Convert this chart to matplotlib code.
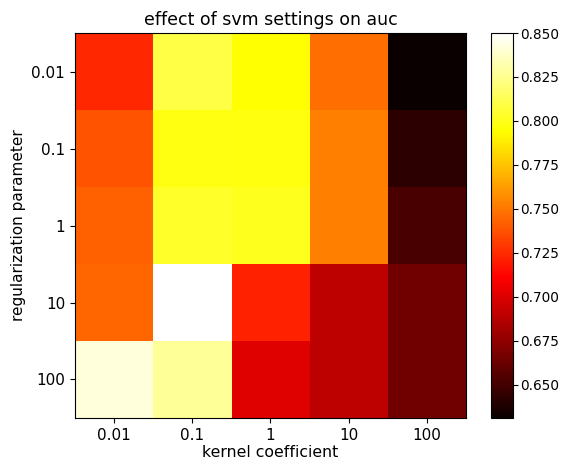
import matplotlib
matplotlib.use("Agg")
import matplotlib.pyplot as plt
import numpy as np

kernel_coef = ["0.01", "0.1", "1", "10", "100"]
reg_param = ["0.01", "0.1", "1", "10", "100"]
auc_row_001 = [0.724, 0.809, 0.795, 0.747, 0.631]
auc_row_01 = [0.738, 0.798, 0.797, 0.753, 0.6425]
auc_row_1 = [0.743, 0.803, 0.801, 0.753, 0.652]
auc_row_10 = [0.744, 0.850, 0.722, 0.690, 0.6645]
auc_row_100 = [0.842, 0.827, 0.701, 0.690, 0.6645]

scores = np.array([auc_row_001, auc_row_01, auc_row_1, auc_row_10, auc_row_100])

fig = plt.figure(figsize=(5.63, 4.61), dpi=100)
ax = fig.add_axes([0.133, 0.0933, 0.6945, 0.835])
cax = fig.add_axes([0.872, 0.0933, 0.039, 0.835])

im = ax.imshow(scores, cmap="hot", aspect="auto", interpolation="nearest")
ax.set_xticks(range(len(kernel_coef)))
ax.set_xticklabels(kernel_coef, fontsize=11)
ax.set_yticks(range(len(reg_param)))
ax.set_yticklabels(reg_param, fontsize=11)
ax.set_xlabel("kernel coefficient", fontsize=11.3, labelpad=2)
ax.set_ylabel("regularization parameter", fontsize=11)
ax.set_title("effect of svm settings on auc", fontsize=12.5, pad=6)

cb = fig.colorbar(im, cax=cax)
cb.set_ticks([0.650, 0.675, 0.700, 0.725, 0.750, 0.775, 0.800, 0.825, 0.850])
cb.ax.set_yticklabels(["0.650", "0.675", "0.700", "0.725", "0.750", "0.775", "0.800", "0.825", "0.850"], fontsize=9.8)
cb.ax.tick_params(pad=2)

fig.savefig("out.png", dpi=100)
